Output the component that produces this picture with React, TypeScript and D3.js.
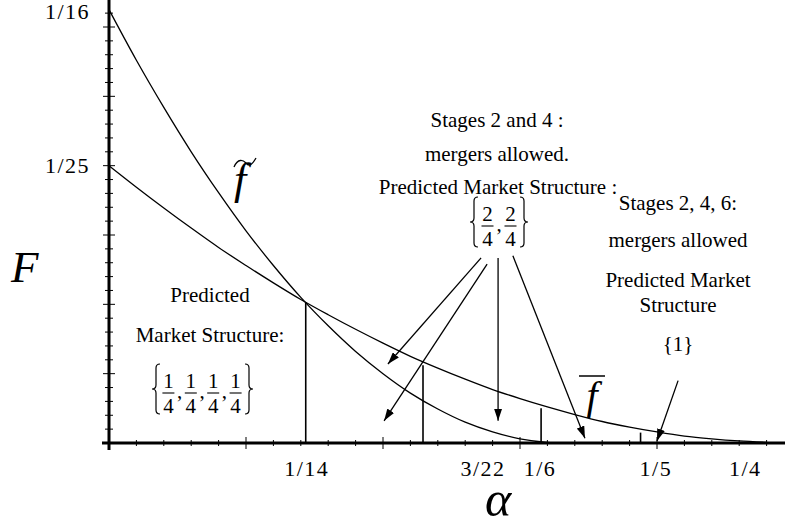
import React from 'react';
import * as d3 from 'd3';

// alpha grid for the two curves
const ALPHA_TILDE = [0, 0.01, 0.02, 0.03, 0.04, 0.05, 0.06, 0.07, 0.08, 0.09, 0.1, 0.11, 0.12, 0.13, 0.14, 0.15, 0.16, 0.1667];
const F_TILDE = [0.0625, 0.0552, 0.0484, 0.0420, 0.0361, 0.0306, 0.0256, 0.0210, 0.0169, 0.0132, 0.0100, 0.0072, 0.0049, 0.0030, 0.0016, 0.0006, 0.0001, 0];

const ALPHA_BAR = [0, 0.01, 0.02, 0.03, 0.04, 0.05, 0.06, 0.07, 0.08, 0.09, 0.1, 0.11, 0.12, 0.13, 0.14, 0.15, 0.16, 0.17, 0.18, 0.19, 0.2, 0.21, 0.22, 0.23, 0.24];
const F_BAR = [0.0400, 0.0369, 0.0339, 0.0310, 0.0282, 0.0256, 0.0231, 0.0207, 0.0185, 0.0164, 0.0144, 0.0125, 0.0108, 0.0092, 0.0077, 0.0064, 0.0052, 0.0041, 0.0031, 0.0023, 0.0016, 0.0010, 0.0006, 0.0003, 0.0001];

// tick labels
const X_TICK_LABELS = ['1/14', '3/22', '1/6', '1/5', '1/4'];
const X_TICK_POS = [0.0722, 0.1365, 0.1573, 0.1996, 0.2322];
const Y_TICK_LABELS = ['1/16', '1/25'];
const Y_TICK_POS = [0.0622, 0.04];

// vertical drop lines
const DROP_ALPHA = [0.0718, 0.1146, 0.1577, 0.194];
const DROP_TOP = [0.0203, 0.0112, 0.005, 0.0015];

// arrows (alpha, F)
const ARROW_FROM: [number, number][] = [[0.1358, 0.0267], [0.138, 0.0258], [0.142, 0.0267], [0.1474, 0.027], [0.2077, 0.009]];
const ARROW_TO: [number, number][] = [[0.1018, 0.0114], [0.1004, 0.0032], [0.142, 0.0032], [0.1737, 0.0007], [0.2, 0.0003]];

const FONT = "'Liberation Serif', 'Times New Roman', serif";

function bracePath(x0: number, y0: number, y1: number, w: number, left: boolean) {
  const m = (y0 + y1) / 2;
  const q = 4;
  const xe = left ? x0 + w : x0;
  const xs = x0 + w / 2;
  const xt = left ? x0 : x0 + w;
  return `M${xe},${y0} Q${xs},${y0} ${xs},${y0 + q} L${xs},${m - q} Q${xs},${m} ${xt},${m} Q${xs},${m} ${xs},${m + q} L${xs},${y1 - q} Q${xs},${y1} ${xe},${y1}`;
}

function FracSet({ cx, cy, nums, dens, spacing, bx0, bx1 }: any) {
  const n = nums.length;
  const start = cx - ((n - 1) * spacing) / 2;
  const items: any[] = [];
  for (let i = 0; i < n; i++) {
    const fx = start + i * spacing;
    items.push(
      <g key={i}>
        <text x={fx} y={cy - 1} textAnchor="middle" fontSize={21} fontFamily={FONT}>{nums[i]}</text>
        <line x1={fx - 6} x2={fx + 6} y1={cy + 4} y2={cy + 4} stroke="#000" strokeWidth={1.1} />
        <text x={fx} y={cy + 24} textAnchor="middle" fontSize={21} fontFamily={FONT}>{dens[i]}</text>
        {i < n - 1 && <text x={fx + spacing / 2} y={cy + 9} textAnchor="middle" fontSize={21} fontFamily={FONT}>,</text>}
      </g>
    );
  }
  return (
    <g>
      <path d={bracePath(bx0, cy - 25, cy + 25, 8, true)} fill="none" stroke="#000" strokeWidth={1.2} />
      <path d={bracePath(bx1, cy - 25, cy + 25, 8, false)} fill="none" stroke="#000" strokeWidth={1.2} />
      {items}
    </g>
  );
}

export default function App() {
  const x = d3.scaleLinear().domain([0, 0.25]).range([109, 794]);
  const y = d3.scaleLinear().domain([0, 0.06]).range([443, 27]);
  const line = d3
    .line<[number, number]>()
    .x((d) => x(d[0]))
    .y((d) => y(d[1]))
    .curve(d3.curveMonotoneX);

  const tilde: [number, number][] = ALPHA_TILDE.map((a, i) => [a, F_TILDE[i]]);
  const bar: [number, number][] = ALPHA_BAR.map((a, i) => [a, F_BAR[i]]);

  const xTicks = d3.range(0, 25);
  const yTicks = d3.range(0, 32);

  const text = (s: string, px: number, py: number, size = 21, anchor = 'middle', extra: any = {}) => (
    <text x={px} y={py} fontSize={size} fontFamily={FONT} textAnchor={anchor} {...extra}>{s}</text>
  );

  return (
    <svg width={785} height={527} style={{ position: 'absolute', left: 0, top: 0, background: '#fff' }}>
      <defs>
        <marker id="ah" viewBox="0 0 12 8" refX={12} refY={4} markerWidth={12} markerHeight={8} markerUnits="userSpaceOnUse" orient="auto">
          <path d="M0,0 L12,4 L0,8 z" fill="#000" />
        </marker>
      </defs>
      <rect width={785} height={527} fill="#fff" />

      {/* curves */}
      <path d={line(tilde) || ''} fill="none" stroke="#000" strokeWidth={1.3} />
      <path d={line(bar) || ''} fill="none" stroke="#000" strokeWidth={1.3} />

      {/* drop lines */}
      {DROP_ALPHA.map((a, i) => (
        <line key={i} x1={x(a)} x2={x(a)} y1={y(DROP_TOP[i])} y2={y(0)} stroke="#000" strokeWidth={1.6} />
      ))}

      {/* axes */}
      <line x1={109} x2={109} y1={0} y2={450} stroke="#000" strokeWidth={3} />
      <line x1={102} x2={785} y1={y(0)} y2={y(0)} stroke="#000" strokeWidth={3} />
      {xTicks.map((i) => {
        const major = i % 5 === 0;
        return <line key={'xt' + i} x1={x(i / 100)} x2={x(i / 100)} y1={y(0) - (major ? 6 : 3)} y2={y(0) + (major ? 6 : 3)} stroke="#000" strokeWidth={1} />;
      })}
      {yTicks.map((i) => {
        const major = i % 5 === 0;
        return <line key={'yt' + i} x1={109 - (major ? 6 : 4)} x2={109 + (major ? 6 : 4)} y1={y(i * 0.002)} y2={y(i * 0.002)} stroke="#000" strokeWidth={1} />;
      })}

      {/* tick labels */}
      {X_TICK_LABELS.map((s, i) => text(s, x(X_TICK_POS[i]), 476, 22, 'middle', { key: 'xl' + i, letterSpacing: 1.5 }))}
      {Y_TICK_LABELS.map((s, i) => text(s, 90, y(Y_TICK_POS[i]) + 7, 22, 'end', { key: 'yl' + i, letterSpacing: 1.5 }))}

      {/* axis titles */}
      {text('F', 11, 282, 45, 'start', { fontStyle: 'italic' })}
      {text('α', 498, 516, 50, 'middle', { fontStyle: 'italic' })}

      {/* curve labels */}
      {text('f', 240, 194, 44, 'middle', { fontStyle: 'italic' })}
      <path d="M234,167 C238,158 243,160 246,163 C249,167 252,165 256,158" fill="none" stroke="#000" strokeWidth={1.3} />
      {text('f', 592, 409, 40, 'middle', { fontStyle: 'italic' })}
      <line x1={579} x2={605} y1={376} y2={376} stroke="#000" strokeWidth={1.5} />

      {/* left annotation */}
      {text('Predicted', 210, 302)}
      {text('Market Structure:', 210, 342)}
      <FracSet cx={202} cy={389} nums={['1', '1', '1', '1']} dens={['4', '4', '4', '4']} spacing={22.4} bx0={152} bx1={245} />

      {/* middle annotation */}
      {text('Stages 2 and 4 :', 497, 127)}
      {text('mergers allowed.', 497, 161)}
      {text('Predicted Market Structure :', 498, 194)}
      <FracSet cx={499} cy={222} nums={['2', '2']} dens={['4', '4']} spacing={23} bx0={470} bx1={520} />

      {/* right annotation */}
      {text('Stages 2, 4, 6:', 678, 210)}
      {text('mergers allowed', 678, 247)}
      {text('Predicted Market', 678, 287)}
      {text('Structure', 678, 312)}
      {text('{1}', 678, 351)}

      {/* arrows */}
      {ARROW_FROM.map((p, i) => (
        <line key={'ar' + i} x1={x(p[0])} y1={y(p[1])} x2={x(ARROW_TO[i][0])} y2={y(ARROW_TO[i][1])} stroke="#000" strokeWidth={1.3} markerEnd="url(#ah)" />
      ))}
    </svg>
  );
}
